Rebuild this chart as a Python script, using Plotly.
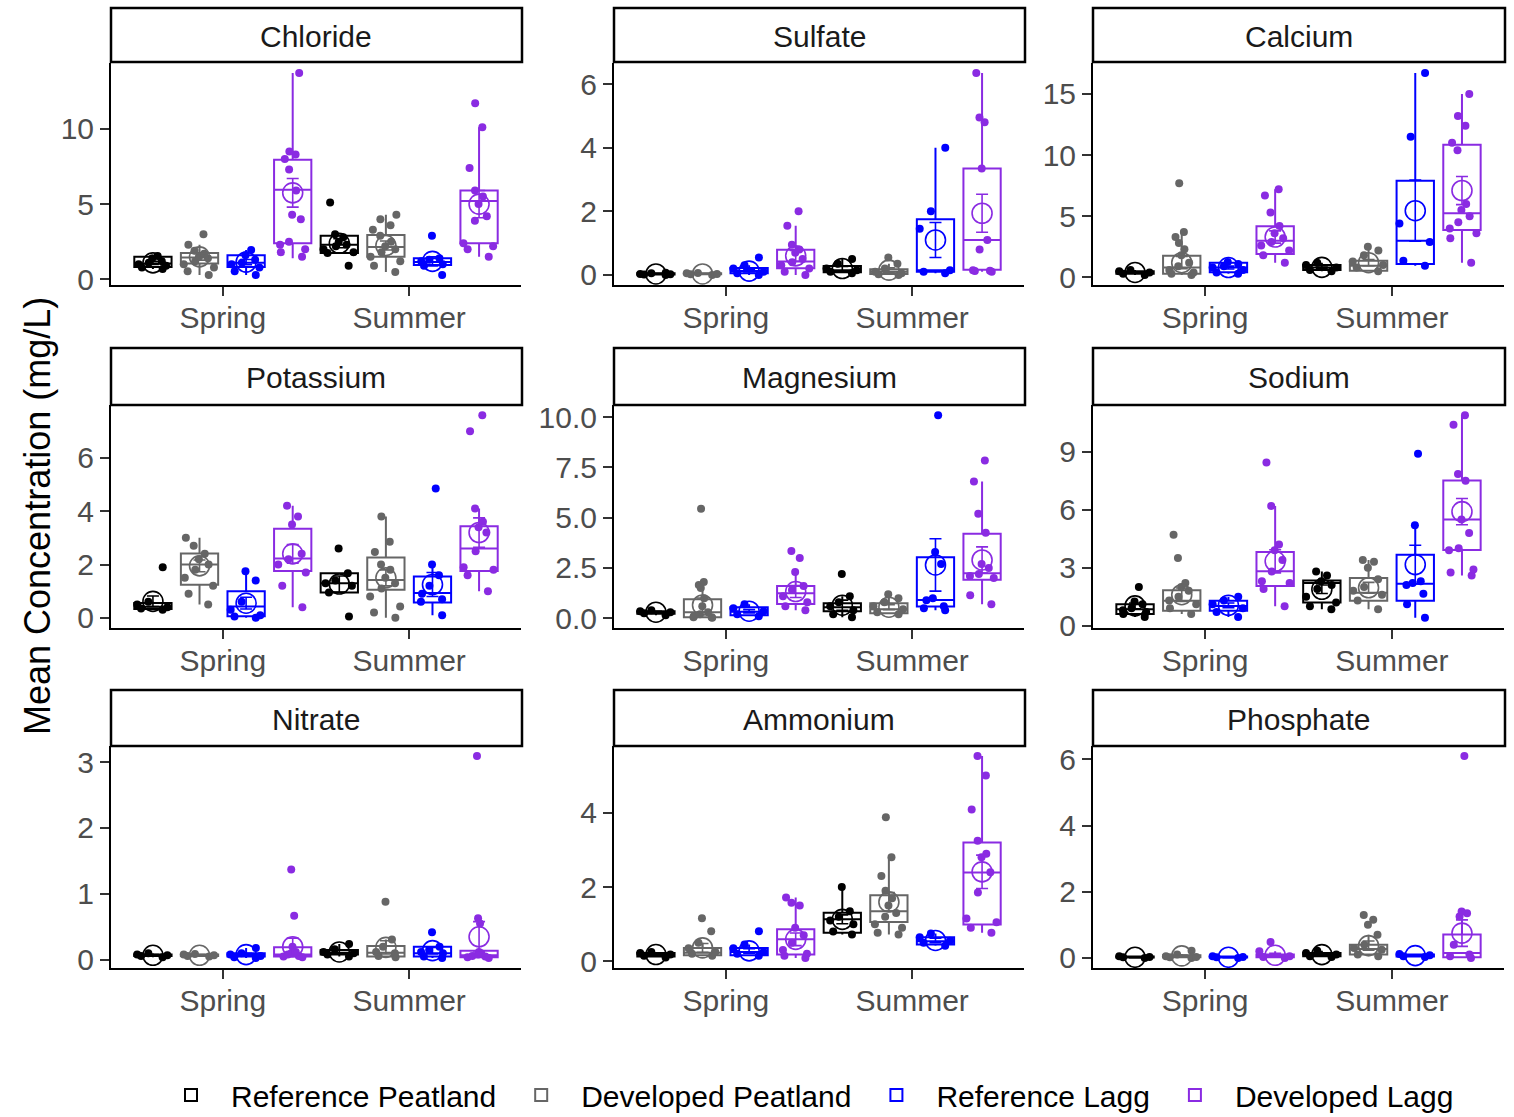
import plotly.graph_objects as go

W, H = 1514, 1117

IONS = ["Chloride", "Sulfate", "Calcium", "Potassium", "Magnesium",
        "Sodium", "Nitrate", "Ammonium", "Phosphate"]
SITES = ["Reference Peatland", "Developed Peatland", "Reference Lagg", "Developed Lagg"]
SITE_COLORS = ["#000000", "#666666", "#0000FF", "#8A2BE2"]
SEASONS = ["Spring", "Summer"]

# Every per-ion list below is ordered:
# Spring (Ref Peatland, Dev Peatland, Ref Lagg, Dev Lagg), Summer (same order).
# *_BOX entries are (lower whisker, Q1, median, Q3, upper whisker) in mg/L.

CHLORIDE_POINTS = [
    [0.7, 0.8, 0.9, 1.0, 1.1, 1.2, 1.4, 1.55],
    [0.3, 0.55, 0.8, 1.0, 1.2, 1.4, 1.5, 1.7, 1.9, 2.3, 3.0],
    [0.3, 0.55, 0.8, 1.0, 1.1, 1.3, 1.6, 1.95],
    [13.7, 8.5, 8.3, 8.0, 7.3, 5.9, 4.3, 4.0, 2.5, 2.3, 2.0, 1.8, 1.5],
    [5.1, 3.0, 2.8, 2.5, 2.3, 2.2, 2.0, 1.8, 1.75, 0.9],
    [4.3, 4.0, 3.6, 3.3, 2.9, 2.5, 2.2, 2.0, 1.8, 1.5, 1.2, 0.9, 0.5],
    [2.9, 1.4, 1.3, 1.2, 1.0, 0.9, 0.3],
    [11.7, 10.1, 7.4, 5.9, 5.5, 5.0, 4.2, 3.9, 2.4, 2.2, 2.0, 1.5],
]
CHLORIDE_BOX = [(0.7, 0.83, 1.05, 1.5, 1.55), (0.3, 1.05, 1.45, 1.75, 2.3),
                (0.3, 0.83, 1.1, 1.6, 1.95), (1.4, 2.4, 5.95, 7.95, 13.7),
                (1.7, 1.75, 2.3, 2.9, 3.0), (0.5, 1.5, 2.15, 2.95, 4.3),
                (0.9, 0.95, 1.15, 1.4, 1.4), (1.5, 2.4, 5.2, 5.9, 10.1)]
CHLORIDE_MEAN = [1.1, 1.5, 1.15, 5.75, 2.4, 2.25, 1.2, 5.0]
CHLORIDE_SE = [0.1, 0.22, 0.17, 0.95, 0.3, 0.3, 0.3, 0.9]

SULFATE_POINTS = [
    [0.0, 0.01, 0.02, 0.03, 0.05, 0.07],
    [0.0, 0.02, 0.03, 0.05, 0.06],
    [0.55, 0.3, 0.2, 0.1, 0.05, 0.0],
    [2.0, 1.55, 0.95, 0.8, 0.7, 0.5, 0.4, 0.3, 0.2, 0.1, 0.0],
    [0.5, 0.35, 0.2, 0.15, 0.1, 0.05],
    [0.55, 0.35, 0.2, 0.1, 0.05, 0.02, 0.0],
    [4.0, 2.0, 1.45, 0.15, 0.1, 0.05],
    [6.35, 4.95, 4.8, 3.35, 1.1, 0.8, 0.15, 0.12, 0.1, 0.13],
]
SULFATE_BOX = [(0.0, 0.01, 0.03, 0.05, 0.07), (0.0, 0.02, 0.03, 0.05, 0.06),
               (0.0, 0.05, 0.12, 0.22, 0.3), (0.0, 0.21, 0.42, 0.79, 1.55),
               (0.05, 0.08, 0.15, 0.28, 0.5), (0.0, 0.03, 0.1, 0.18, 0.35),
               (0.05, 0.1, 0.15, 1.75, 4.0), (0.1, 0.16, 1.1, 3.35, 6.35)]
SULFATE_MEAN = [0.03, 0.03, 0.12, 0.6, 0.2, 0.15, 1.1, 1.94]
SULFATE_SE = [0.01, 0.01, 0.06, 0.17, 0.07, 0.07, 0.55, 0.6]

CALCIUM_POINTS = [
    [0.2, 0.3, 0.4, 0.5, 0.6],
    [7.7, 3.7, 3.3, 2.8, 2.3, 1.8, 1.2, 0.9, 0.6, 0.4, 0.3, 0.2],
    [1.25, 1.1, 0.9, 0.8, 0.6, 0.4, 0.3],
    [7.2, 6.7, 5.3, 4.2, 3.6, 3.2, 2.9, 2.6, 2.2, 1.8, 1.2],
    [1.2, 1.0, 0.8, 0.6, 0.5],
    [2.5, 2.2, 1.8, 1.3, 1.0, 0.8, 0.5],
    [16.7, 11.5, 4.4, 2.9, 1.36, 0.95],
    [15.0, 13.2, 12.4, 11.0, 10.4, 6.0, 5.5, 5.0, 4.5, 4.0, 3.6, 3.2, 1.2],
]
CALCIUM_BOX = [(0.2, 0.3, 0.4, 0.5, 0.6), (0.2, 0.3, 0.8, 1.77, 3.7),
               (0.3, 0.42, 0.8, 1.2, 1.25), (1.2, 1.9, 3.0, 4.17, 7.2),
               (0.5, 0.6, 0.8, 1.0, 1.2), (0.5, 0.55, 0.95, 1.36, 2.5),
               (0.95, 1.1, 3.0, 7.9, 16.7), (1.2, 3.87, 5.24, 10.85, 15.0)]
CALCIUM_MEAN = [0.4, 1.2, 0.8, 3.3, 0.82, 1.2, 5.45, 7.1]
CALCIUM_SE = [0.06, 0.5, 0.12, 0.5, 0.12, 0.25, 2.5, 1.15]

POTASSIUM_POINTS = [
    [1.9, 0.6, 0.5, 0.4, 0.35, 0.3],
    [3.0, 2.7, 2.4, 2.2, 2.0, 1.8, 1.5, 1.2, 0.9, 0.5],
    [1.75, 1.4, 0.6, 0.3, 0.1, 0.05, 0.0],
    [4.2, 3.8, 3.5, 2.4, 2.2, 2.0, 1.7, 1.2, 0.4],
    [2.6, 1.67, 1.4, 1.3, 1.2, 0.95, 0.05],
    [3.8, 2.85, 2.47, 2.0, 1.8, 1.5, 1.3, 1.1, 0.8, 0.43, 0.2, 0.0],
    [4.85, 2.0, 1.6, 1.2, 0.9, 0.7, 0.6, 0.1],
    [7.6, 7.0, 4.1, 3.6, 3.4, 3.2, 2.5, 1.9, 1.8, 1.6, 1.0],
]
POTASSIUM_BOX = [(0.3, 0.33, 0.42, 0.56, 0.6), (0.5, 1.24, 2.0, 2.41, 3.0),
                 (0.0, 0.06, 0.43, 1.0, 1.75), (0.4, 1.76, 2.23, 3.34, 4.2),
                 (0.95, 0.95, 1.3, 1.67, 1.67), (0.0, 1.05, 1.42, 2.26, 3.8),
                 (0.1, 0.58, 0.93, 1.55, 2.0), (1.0, 1.76, 2.6, 3.43, 4.1)]
POTASSIUM_MEAN = [0.62, 1.95, 0.55, 2.4, 1.27, 1.5, 1.25, 3.2]
POTASSIUM_SE = [0.2, 0.22, 0.22, 0.35, 0.3, 0.3, 0.45, 0.55]

MAGNESIUM_POINTS = [
    [0.15, 0.25, 0.3, 0.35, 0.4],
    [5.45, 1.8, 1.65, 1.5, 1.0, 0.6, 0.3, 0.2, 0.1, 0.05, 0.05, 0.02],
    [0.7, 0.5, 0.35, 0.2, 0.1],
    [3.35, 3.0, 2.3, 1.6, 1.4, 1.1, 0.8, 0.6, 0.4],
    [2.2, 1.1, 0.8, 0.6, 0.4, 0.2, 0.05],
    [1.2, 1.0, 0.8, 0.6, 0.45, 0.3, 0.2],
    [10.1, 3.3, 2.7, 1.0, 0.9, 0.6, 0.5, 0.4],
    [7.85, 6.8, 5.2, 4.25, 2.7, 2.5, 2.2, 2.1, 2.0, 1.15, 0.7],
]
MAGNESIUM_BOX = [(0.15, 0.22, 0.3, 0.35, 0.4), (0.02, 0.05, 0.3, 0.95, 1.8),
                 (0.1, 0.15, 0.33, 0.55, 0.7), (0.4, 0.71, 1.24, 1.61, 2.3),
                 (0.05, 0.35, 0.55, 0.75, 1.1), (0.2, 0.25, 0.45, 0.75, 1.2),
                 (0.4, 0.58, 0.91, 3.03, 3.3), (0.7, 1.91, 2.24, 4.2, 6.8)]
MAGNESIUM_MEAN = [0.3, 0.66, 0.35, 1.33, 0.65, 0.55, 2.65, 2.9]
MAGNESIUM_SE = [0.05, 0.35, 0.08, 0.3, 0.25, 0.12, 1.3, 0.65]

SODIUM_POINTS = [
    [2.0, 1.25, 1.1, 0.9, 0.8, 0.7, 0.6, 0.45],
    [4.7, 3.5, 2.2, 2.0, 1.8, 1.5, 1.3, 1.1, 0.9, 0.6],
    [1.5, 1.3, 1.1, 0.9, 0.7, 0.45],
    [8.45, 6.2, 4.2, 3.9, 3.4, 2.8, 2.3, 2.2, 1.9, 1.0],
    [2.8, 2.6, 2.3, 2.1, 1.9, 1.5, 1.2, 1.0, 0.85],
    [3.4, 3.3, 3.0, 2.4, 2.0, 1.8, 1.6, 1.3, 0.85],
    [8.9, 5.2, 2.3, 2.2, 2.1, 1.65, 1.1, 0.4],
    [10.9, 10.4, 7.85, 7.5, 5.5, 4.8, 4.0, 3.9, 2.9, 2.75, 2.6],
]
SODIUM_BOX = [(0.45, 0.6, 0.85, 1.1, 1.25), (0.6, 0.77, 1.28, 1.83, 2.2),
              (0.45, 0.77, 1.02, 1.28, 1.5), (1.0, 2.05, 2.82, 3.81, 6.2),
              (0.85, 1.19, 2.2, 2.34, 2.8), (0.85, 1.28, 1.7, 2.47, 3.4),
              (0.4, 1.28, 2.17, 3.67, 5.2), (2.6, 3.92, 5.5, 7.51, 10.9)]
SODIUM_MEAN = [1.02, 1.6, 1.05, 3.33, 1.88, 1.96, 3.16, 5.9]
SODIUM_SE = [0.15, 0.35, 0.12, 0.6, 0.22, 0.28, 1.0, 0.68]

NITRATE_POINTS = [
    [0.04, 0.06, 0.07, 0.08, 0.1],
    [0.05, 0.06, 0.07, 0.08, 0.09],
    [0.18, 0.1, 0.08, 0.06, 0.04, 0.03],
    [1.37, 0.67, 0.2, 0.12, 0.1, 0.08, 0.06, 0.05, 0.04],
    [0.24, 0.16, 0.12, 0.1, 0.08, 0.05],
    [0.88, 0.31, 0.2, 0.12, 0.1, 0.06, 0.04],
    [0.42, 0.2, 0.15, 0.12, 0.1, 0.05, 0.03],
    [3.09, 0.63, 0.55, 0.12, 0.1, 0.08, 0.06, 0.05, 0.04, 0.03],
]
NITRATE_BOX = [(0.04, 0.06, 0.07, 0.08, 0.1), (0.05, 0.06, 0.07, 0.08, 0.09),
               (0.03, 0.05, 0.07, 0.1, 0.18), (0.04, 0.05, 0.08, 0.19, 0.2),
               (0.05, 0.08, 0.11, 0.15, 0.24), (0.04, 0.05, 0.11, 0.21, 0.31),
               (0.03, 0.05, 0.1, 0.2, 0.2), (0.03, 0.04, 0.07, 0.14, 0.14)]
NITRATE_MEAN = [0.07, 0.07, 0.08, 0.2, 0.12, 0.19, 0.14, 0.35]
NITRATE_SE = [0.01, 0.01, 0.02, 0.13, 0.03, 0.1, 0.05, 0.23]

AMMONIUM_POINTS = [
    [0.1, 0.15, 0.18, 0.22, 0.25],
    [1.16, 0.81, 0.5, 0.35, 0.25, 0.2, 0.15],
    [0.81, 0.45, 0.35, 0.25, 0.2, 0.15],
    [1.72, 1.58, 1.5, 0.9, 0.7, 0.5, 0.3, 0.2, 0.15, 0.09],
    [2.0, 1.35, 1.2, 1.1, 1.0, 0.8, 0.72],
    [3.88, 2.8, 2.3, 1.9, 1.7, 1.5, 1.3, 1.2, 1.0, 0.9, 0.77, 0.72],
    [0.75, 0.65, 0.55, 0.5, 0.42],
    [5.53, 5.01, 4.09, 3.25, 2.9, 2.8, 2.4, 1.85, 1.15, 1.05, 0.9, 0.77],
]
AMMONIUM_BOX = [(0.1, 0.13, 0.18, 0.22, 0.25), (0.15, 0.16, 0.23, 0.36, 0.5),
                (0.15, 0.16, 0.25, 0.36, 0.45), (0.09, 0.18, 0.59, 0.86, 1.72),
                (0.72, 0.77, 1.13, 1.31, 2.0), (0.72, 1.06, 1.35, 1.78, 2.8),
                (0.42, 0.45, 0.54, 0.65, 0.75), (0.77, 0.99, 2.39, 3.2, 5.53)]
AMMONIUM_MEAN = [0.18, 0.36, 0.28, 0.59, 1.13, 1.6, 0.56, 2.41]
AMMONIUM_SE = [0.02, 0.12, 0.06, 0.17, 0.12, 0.25, 0.06, 0.45]

PHOSPHATE_POINTS = [
    [0.0, 0.02, 0.03, 0.05],
    [0.22, 0.1, 0.05, 0.03, 0.02, 0.0],
    [0.05, 0.03, 0.02, 0.0],
    [0.48, 0.2, 0.05, 0.03, 0.0],
    [0.22, 0.15, 0.1, 0.05, 0.03],
    [1.3, 1.15, 1.0, 0.7, 0.4, 0.3, 0.25, 0.1, 0.05],
    [0.12, 0.08, 0.05, 0.03],
    [6.1, 1.4, 1.35, 1.25, 0.4, 0.1, 0.05, 0.0],
]
PHOSPHATE_BOX = [(0.0, 0.01, 0.02, 0.04, 0.05), (0.0, 0.02, 0.04, 0.08, 0.12),
                 (0.0, 0.01, 0.02, 0.04, 0.05), (0.0, 0.02, 0.04, 0.1, 0.2),
                 (0.03, 0.05, 0.1, 0.15, 0.22), (0.05, 0.1, 0.27, 0.4, 0.7),
                 (0.03, 0.04, 0.06, 0.1, 0.12), (0.0, 0.02, 0.15, 0.71, 1.4)]
PHOSPHATE_MEAN = [0.02, 0.06, 0.02, 0.08, 0.1, 0.37, 0.07, 0.75]
PHOSPHATE_SE = [0.01, 0.03, 0.01, 0.06, 0.03, 0.14, 0.02, 0.4]

Y_TICKS = [[0, 5, 10], [0, 2, 4, 6], [0, 5, 10, 15],
           [0, 2, 4, 6], [0, 2.5, 5, 7.5, 10], [0, 3, 6, 9],
           [0, 1, 2, 3], [0, 2, 4], [0, 2, 4, 6]]
Y_TICK_DECIMALS = [0, 0, 0, 0, 1, 0, 0, 0, 0]

PANELS = [
    (CHLORIDE_POINTS, CHLORIDE_BOX, CHLORIDE_MEAN, CHLORIDE_SE),
    (SULFATE_POINTS, SULFATE_BOX, SULFATE_MEAN, SULFATE_SE),
    (CALCIUM_POINTS, CALCIUM_BOX, CALCIUM_MEAN, CALCIUM_SE),
    (POTASSIUM_POINTS, POTASSIUM_BOX, POTASSIUM_MEAN, POTASSIUM_SE),
    (MAGNESIUM_POINTS, MAGNESIUM_BOX, MAGNESIUM_MEAN, MAGNESIUM_SE),
    (SODIUM_POINTS, SODIUM_BOX, SODIUM_MEAN, SODIUM_SE),
    (NITRATE_POINTS, NITRATE_BOX, NITRATE_MEAN, NITRATE_SE),
    (AMMONIUM_POINTS, AMMONIUM_BOX, AMMONIUM_MEAN, AMMONIUM_SE),
    (PHOSPHATE_POINTS, PHOSPHATE_BOX, PHOSPHATE_MEAN, PHOSPHATE_SE),
]

# ---- page geometry (pixels) ----
COL_PX = [(111, 521), (614, 1024), (1093, 1504)]
ROW_PX = [(63, 285), (405, 628), (746, 968)]
STRIP_PX = [(8, 62), (348, 405), (690, 746)]

FONT = "Liberation Sans, Arial, Helvetica, sans-serif"
DODGE = [-0.375, -0.125, 0.125, 0.375]
BOX_W = 0.2


def fx(px):
    return px / W


def fy(py):
    return 1 - py / H


fig = go.Figure()
layout_axes = {}
shapes = []
annotations = []

for k, ion in enumerate(IONS):
    r, c = divmod(k, 3)
    pts, box, mean, se = PANELS[k]
    suffix = "" if k == 0 else str(k + 1)
    xref, yref = "x" + suffix, "y" + suffix

    # one box + jittered points per site/season
    for s_i in range(2):
        for g in range(4):
            i = s_i * 4 + g
            pos = (s_i + 1) + DODGE[g]
            col = SITE_COLORS[g]
            lo, q1, med, q3, hi = box[i]
            fig.add_trace(go.Box(
                x=[pos], q1=[q1], median=[med], q3=[q3],
                lowerfence=[lo], upperfence=[hi],
                width=BOX_W, whiskerwidth=0, boxpoints=False,
                line=dict(color=col, width=2), fillcolor="rgba(255,255,255,0)",
                name=SITES[g], legendgroup=SITES[g],
                showlegend=(k == 0 and s_i == 0),
                xaxis=xref, yaxis=yref,
            ))
            fig.add_trace(go.Box(
                x=[pos] * len(pts[i]), y=pts[i],
                boxpoints="all", jitter=1.0, pointpos=0, width=BOX_W,
                whiskerwidth=0, line=dict(width=0, color=col),
                fillcolor="rgba(0,0,0,0)",
                marker=dict(size=8, color=col),
                name=SITES[g], legendgroup=SITES[g], showlegend=False,
                xaxis=xref, yaxis=yref,
            ))

    # group means with standard-error bars
    for g in range(4):
        col = SITE_COLORS[g]
        fig.add_trace(go.Scatter(
            x=[1 + DODGE[g], 2 + DODGE[g]],
            y=[mean[g], mean[4 + g]],
            mode="markers",
            marker=dict(symbol="circle-open", size=20, color=col,
                        line=dict(width=1.6, color=col)),
            error_y=dict(type="data", array=[se[g], se[4 + g]],
                         width=6, thickness=1.6, color=col),
            name=SITES[g], legendgroup=SITES[g], showlegend=False,
            xaxis=xref, yaxis=yref,
        ))

    # free y scale with 5% padding around everything drawn
    vals = [v for p in pts for v in p]
    vals += [v for b in box for v in (b[0], b[4])]
    vals += [m + e for m, e in zip(mean, se)] + [m - e for m, e in zip(mean, se)]
    lo_v, hi_v = min(vals), max(vals)
    pad = 0.05 * (hi_v - lo_v)
    yr = [lo_v - pad, hi_v + pad]

    x0, x1 = COL_PX[c]
    y0, y1 = ROW_PX[r]
    tick_font = dict(family=FONT, size=30, color="#4d4d4d")
    common = dict(showgrid=False, zeroline=False, showline=True,
                  linecolor="#000000", linewidth=2, ticks="outside",
                  ticklen=9, tickwidth=2, tickcolor="#333333",
                  tickfont=tick_font, automargin=False, fixedrange=True)
    layout_axes["xaxis" + suffix] = dict(
        domain=[fx(x0), fx(x1)], anchor=yref, range=[0.4, 2.6],
        tickmode="array", tickvals=[1, 2], ticktext=SEASONS,
        ticklabelstandoff=-4, **common)
    dec = Y_TICK_DECIMALS[k]
    layout_axes["yaxis" + suffix] = dict(
        domain=[fy(y1), fy(y0)], anchor=xref, range=yr,
        tickmode="array", tickvals=Y_TICKS[k],
        ticktext=[f"{v:.{dec}f}" for v in Y_TICKS[k]], **common)

    # facet strip
    s0, s1 = STRIP_PX[r]
    shapes.append(dict(type="rect", xref="paper", yref="paper",
                       x0=fx(x0), x1=fx(x1 + 1), y0=fy(s1), y1=fy(s0),
                       line=dict(color="#000000", width=2.5),
                       fillcolor="#ffffff", layer="above"))
    annotations.append(dict(text=ion, xref="paper", yref="paper",
                            x=fx((x0 + x1) / 2), y=fy((s0 + s1) / 2 + 1),
                            xanchor="center", yanchor="middle", showarrow=False,
                            font=dict(family=FONT, size=30, color="#1a1a1a")))

annotations.append(dict(text="Mean Concentration (mg/L)", xref="paper", yref="paper",
                        x=fx(37), y=fy(516), textangle=-90, showarrow=False,
                        xanchor="center", yanchor="middle",
                        font=dict(family=FONT, size=36, color="#000000")))

fig.update_layout(
    width=W, height=H,
    margin=dict(l=0, r=0, t=0, b=0, pad=0, autoexpand=False),
    template="none", paper_bgcolor="#ffffff", plot_bgcolor="#ffffff",
    boxmode="overlay", shapes=shapes, annotations=annotations,
    font=dict(family=FONT, color="#000000"),
    legend=dict(orientation="h", x=fx(805), xanchor="center",
                y=fy(1095), yanchor="middle",
                font=dict(family=FONT, size=30, color="#000000"),
                itemwidth=70, bgcolor="rgba(0,0,0,0)"),
    **layout_axes,
)

fig.write_html("out.html")
